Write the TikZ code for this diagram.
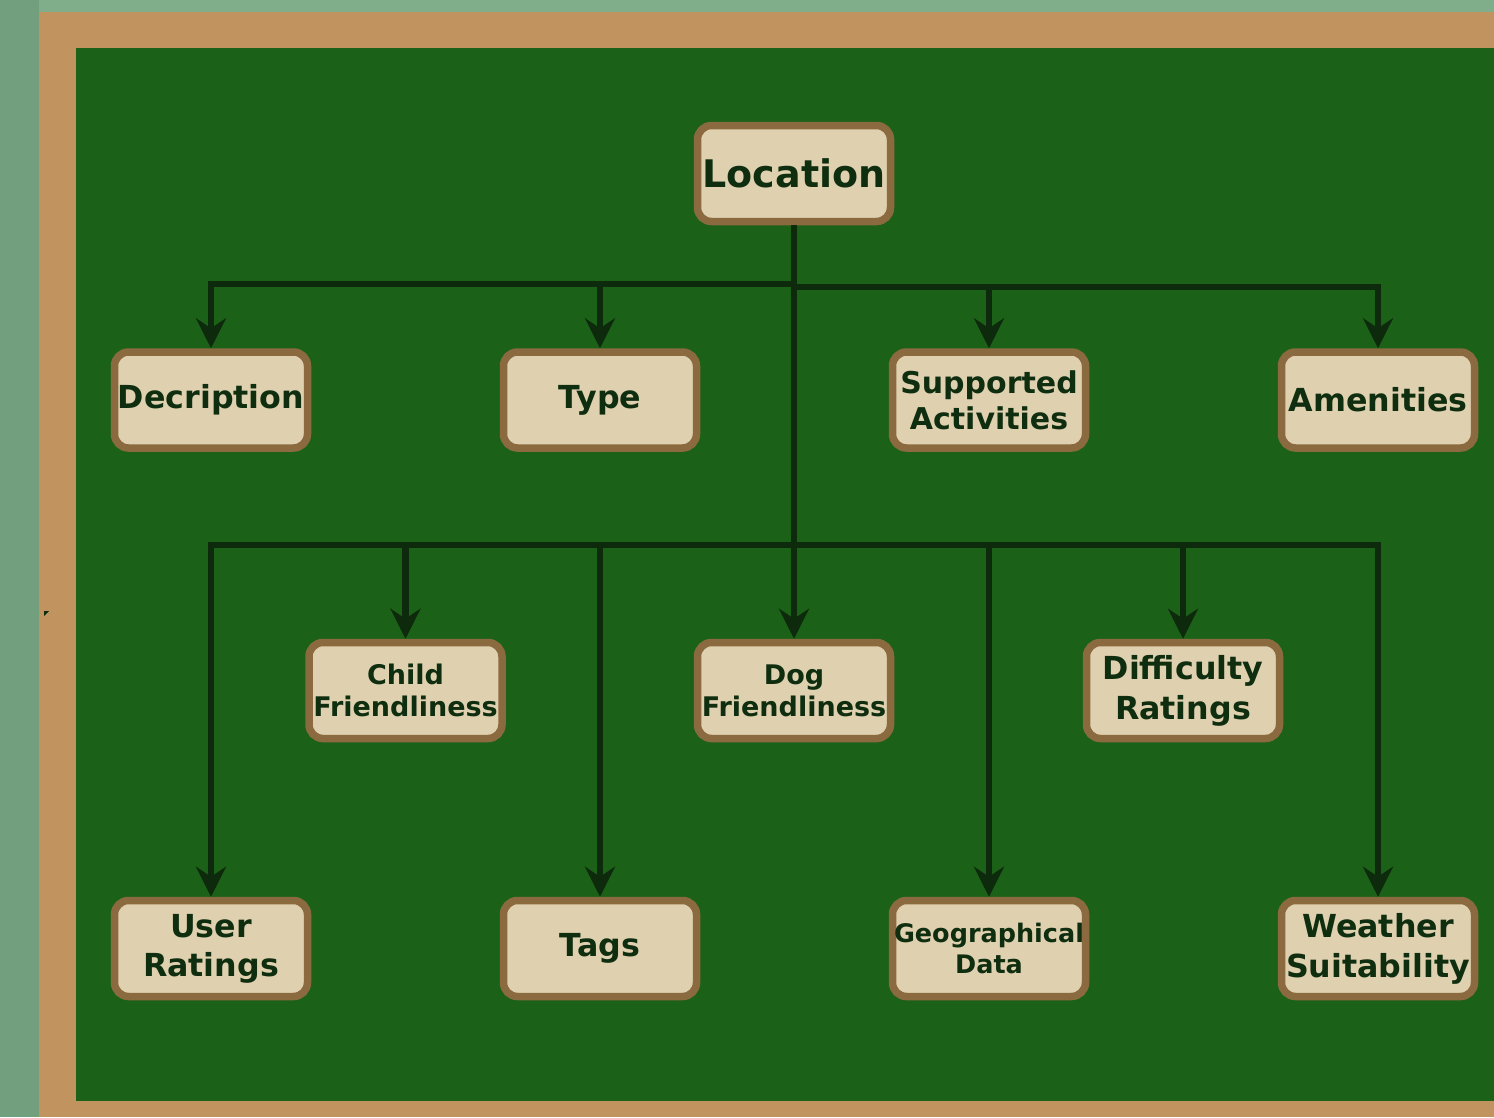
\documentclass[tikz,border=0pt]{standalone}
\usepackage{fontspec}
\setmainfont{DejaVu Sans}
\usetikzlibrary{arrows.meta}
\definecolor{bgout}{HTML}{729F7E}
\definecolor{bgtop}{HTML}{80AD8A}
\definecolor{frametan}{HTML}{C0935F}
\definecolor{board}{HTML}{1C6118}
\definecolor{boxfill}{HTML}{DFD0B0}
\definecolor{boxline}{HTML}{8B6A40}
\definecolor{ink}{HTML}{0F2E0F}
\definecolor{wire}{HTML}{0E2A0C}
\tikzset{
  card/.style={draw=boxline, fill=boxfill, line width=7.5pt, rounded corners=14pt,
    minimum width=193pt, minimum height=96pt, inner sep=0pt, align=center,
    text=ink},
  fs/.style 2 args={font=\fontsize{#1}{#2}\selectfont\bfseries},
  conn/.style={draw=wire, line width=6.5pt,
    -{Stealth[length=30pt,width=30pt,inset=10pt]}},
  plain/.style={draw=wire, line width=6.5pt}
}
\begin{document}
\begin{tikzpicture}[x=1pt,y=-1pt]
\useasboundingbox (0,0) rectangle (1494,1117);
% background and frame
\fill[bgout] (0,0) rectangle (1494,1117);
\fill[bgtop] (0,0) rectangle (1494,12);
\fill[bgout] (0,0) rectangle (39,1117);
\fill[frametan] (39,12) rectangle (1494,1117);
\fill[board] (76,48) rectangle (1494,1101);
\fill[wire] (44,611) -- (49,611) -- (44,616) -- cycle;

% nodes
\node[card, fs={38pt}{46pt}] (loc) at (794,173.5) {Location};

\node[card, fs={31.7pt}{39pt}] (desc) at (211,400) {Decription};
\node[card, fs={31.7pt}{39pt}] (type) at (600,400) {Type};
\node[card, fs={30pt}{36pt}] (supp) at (989,400) {Supported\\Activities};
\node[card, fs={31.7pt}{39pt}] (amen) at (1378,400) {Amenities};

\node[card, fs={27pt}{32pt}] (child) at (405.5,690.5) {Child\\Friendliness};
\node[card, fs={27pt}{32pt}] (dog) at (794,690.5) {Dog\\Friendliness};
\node[card, fs={31.7pt}{40pt}] (diff) at (1183,690.5) {Difficulty\\Ratings};

\node[card, fs={31.7pt}{39pt}] (user) at (211,948.5) {User\\Ratings};
\node[card, fs={31.7pt}{39pt}] (tags) at (600,948.5) {Tags};
\node[card, fs={25.5pt}{31pt}] (geo) at (989,948.5) {Geographical\\Data};
\node[card, fs={31.7pt}{40pt}] (weat) at (1378,948.5) {Weather\\Suitability};

% bus levels
\coordinate (busL) at (0,284);
\coordinate (busR) at (0,287);
\coordinate (busB) at (0,545);

% connectors
\path[plain] (loc.south) -- (loc.south |- busB);
\path[conn] (loc.south) |- (desc.north |- busL) -- (desc.north);
\path[conn] (loc.south) |- (type.north |- busL) -- (type.north);
\path[conn] (loc.south) |- (supp.north |- busR) -- (supp.north);
\path[conn] (loc.south) |- (amen.north |- busR) -- (amen.north);

\path[conn] (loc.south) |- (user.north |- busB) -- (user.north);
\path[conn] (loc.south) |- (child.north |- busB) -- (child.north);
\path[conn] (loc.south) |- (tags.north |- busB) -- (tags.north);
\path[conn] (loc.south) -- (dog.north);
\path[conn] (loc.south) |- (geo.north |- busB) -- (geo.north);
\path[conn] (loc.south) |- (diff.north |- busB) -- (diff.north);
\path[conn] (loc.south) |- (weat.north |- busB) -- (weat.north);
\end{tikzpicture}
\end{document}
